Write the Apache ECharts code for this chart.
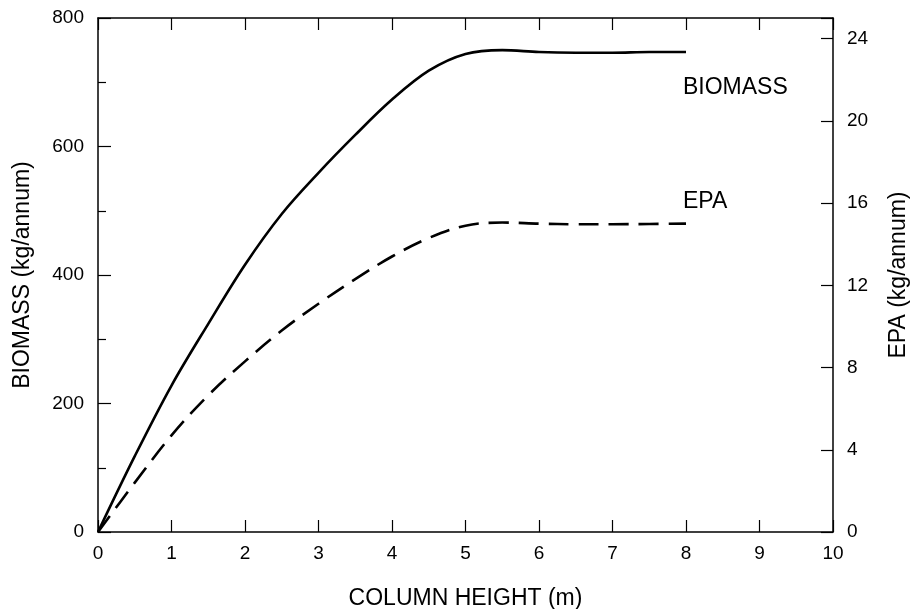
<!DOCTYPE html>
<html>
<head>
<meta charset="utf-8">
<title>Biomass and EPA vs column height</title>
<script src="https://cdn.jsdelivr.net/npm/echarts@6/dist/echarts.min.js"></script>
<style>
  body { margin: 0; background: #fff; }
  #main { width: 910px; height: 609px; }
</style>
</head>
<body>
<div id="main"></div>
<script type="text/javascript">
// column height (m)
var heights = [0, 0.5, 1, 1.5, 2, 2.5, 3, 3.5, 4, 4.5, 5, 5.5, 6, 6.5, 7, 7.5, 8];
// biomass (kg/annum), left axis
var biomass = [0, 118, 228, 324, 416, 495, 559, 618, 673, 718, 744, 750, 747, 746, 746, 747, 747];
// EPA (kg/annum), right axis
var epa = [0, 2.4, 4.7, 6.65, 8.3, 9.8, 11.1, 12.3, 13.4, 14.3, 14.9, 15.05, 15.0, 14.97, 14.97, 14.98, 15.0];

function pairs(xs, ys) {
  var out = [];
  for (var i = 0; i < xs.length; i++) out.push([xs[i], ys[i]]);
  return out;
}

var font = 'Liberation Sans, Arial, sans-serif';
var axisLine = { show: true, onZero: false, lineStyle: { color: '#000', width: 1.5 } };
var tick = { inside: true, length: 12, lineStyle: { color: '#000', width: 1.2 } };

var chart = echarts.init(document.getElementById('main'));
chart.setOption({
  animation: false,
  backgroundColor: '#fff',
  grid: { left: 98, right: 77, top: 18, bottom: 77, outerBoundsMode: 'none', containLabel: false },
  xAxis: [{
    type: 'value', min: 0, max: 10, interval: 1,
    name: 'COLUMN HEIGHT (m)', nameLocation: 'middle', nameGap: 55,
    nameTextStyle: { fontFamily: font, fontSize: 23, color: '#000' },
    axisLine: axisLine, axisTick: tick,
    axisLabel: { fontFamily: font, fontSize: 19, color: '#000', margin: 12 },
    splitLine: { show: false }
  }, {
    type: 'value', min: 0, max: 10, interval: 1, position: 'top',
    axisLine: axisLine, axisTick: tick,
    axisLabel: { show: false },
    splitLine: { show: false }
  }],
  yAxis: [{
    type: 'value', min: 0, max: 800, interval: 200,
    name: 'BIOMASS (kg/annum)', nameLocation: 'middle', nameGap: 64,
    nameTextStyle: { fontFamily: font, fontSize: 23, color: '#000' },
    axisLine: axisLine,
    axisTick: { inside: true, length: 13, lineStyle: { color: '#000', width: 1.2 } },
    minorTick: { show: true, splitNumber: 2, length: 8, lineStyle: { color: '#000', width: 1.2 } },
    axisLabel: { fontFamily: font, fontSize: 19, color: '#000', margin: 14 },
    splitLine: { show: false }
  }, {
    type: 'value', min: 0, max: 25, interval: 4, position: 'right',
    name: 'EPA (kg/annum)', nameLocation: 'middle', nameGap: 54, nameRotate: 90,
    nameTextStyle: { fontFamily: font, fontSize: 23, color: '#000' },
    axisLine: axisLine, axisTick: tick,
    axisLabel: {
      fontFamily: font, fontSize: 19, color: '#000', margin: 14,
      formatter: function (v) { return v % 4 === 0 ? v : ''; }
    },
    splitLine: { show: false }
  }],
  series: [{
    name: 'BIOMASS', type: 'line', xAxisIndex: 0, yAxisIndex: 0,
    data: pairs(heights, biomass), smooth: 0.35, showSymbol: false,
    lineStyle: { color: '#000', width: 2.6 }
  }, {
    name: 'EPA', type: 'line', xAxisIndex: 0, yAxisIndex: 1,
    data: pairs(heights, epa), smooth: 0.35, showSymbol: false,
    lineStyle: { color: '#000', width: 2.6, type: [20, 10] }
  }],
  graphic: [
    { type: 'text', left: 683, top: 76, style: { text: 'BIOMASS', font: '23px ' + font, fill: '#000' } },
    { type: 'text', left: 683, top: 190, style: { text: 'EPA', font: '23px ' + font, fill: '#000' } }
  ]
});
</script>
</body>
</html>
